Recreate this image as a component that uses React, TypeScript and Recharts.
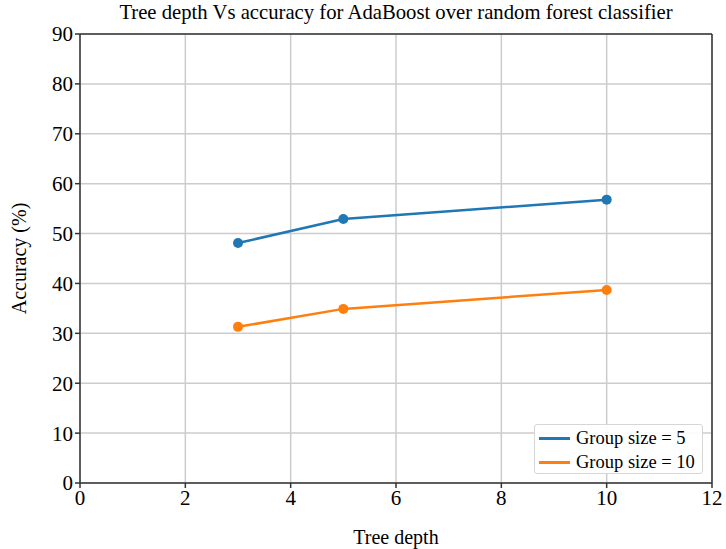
import { LineChart, Line, XAxis, YAxis, CartesianGrid, Legend, ReferenceLine } from 'recharts';

const depths = [3, 5, 10];
const groupSize5 = [48.1, 52.9, 56.8];
const groupSize10 = [31.3, 34.9, 38.7];
const xTicks = [0, 2, 4, 6, 8, 10, 12];
const yTicks = [0, 10, 20, 30, 40, 50, 60, 70, 80, 90];

const data = depths.map((d, i) => ({ depth: d, g5: groupSize5[i], g10: groupSize10[i] }));

const FONT = '"Liberation Serif", "Times New Roman", serif';
const BLUE = '#1f77b4';
const ORANGE = '#ff7f0e';

const LegendBox = () => (
  <div
    style={{
      boxSizing: 'border-box',
      width: 169,
      height: 50,
      background: 'rgba(255,255,255,0.9)',
      border: '1px solid #d6d6d6',
      borderRadius: 3,
      padding: '1px 4px',
      fontFamily: FONT,
      fontSize: 18.5,
      color: '#000',
      lineHeight: '24px',
    }}
  >
    {[
      { name: 'Group size = 5', color: BLUE },
      { name: 'Group size = 10', color: ORANGE },
    ].map((e) => (
      <div key={e.name} style={{ display: 'flex', alignItems: 'center', whiteSpace: 'nowrap' }}>
        <span style={{ display: 'inline-block', width: 31, height: 3, background: e.color, marginRight: 6 }} />
        {e.name}
      </div>
    ))}
  </div>
);

export default function App() {
  return (
    <div style={{ position: 'absolute', left: 0, top: 0, width: 726, height: 549, background: '#fff' }}>
      <div
        style={{
          position: 'absolute',
          left: 80,
          width: 632,
          top: 1,
          textAlign: 'center',
          fontFamily: FONT,
          fontSize: 20.7,
          color: '#000',
          whiteSpace: 'nowrap',
        }}
      >
        Tree depth Vs accuracy for AdaBoost over random forest classifier
      </div>
      <LineChart width={726} height={549} data={data} margin={{ top: 34, right: 14, left: 20, bottom: 0 }}>
        <CartesianGrid stroke="#cccccc" strokeWidth={1.5} horizontalValues={yTicks} verticalValues={xTicks} />
        <XAxis
          dataKey="depth"
          type="number"
          domain={[0, 12]}
          ticks={xTicks}
          height={66}
          stroke="#333"
          strokeWidth={1.5}
          tickSize={5}
          tick={{ fill: '#000', fontSize: 21, fontFamily: FONT }}
          label={{ value: 'Tree depth', position: 'insideBottom', offset: 5, fill: '#000', fontSize: 20, fontFamily: FONT }}
        />
        <YAxis
          type="number"
          domain={[0, 90]}
          ticks={yTicks}
          width={60}
          stroke="#333"
          strokeWidth={1.5}
          tickSize={5}
          tick={{ fill: '#000', fontSize: 21, fontFamily: FONT }}
          label={{ value: 'Accuracy (%)', angle: -90, position: 'insideLeft', offset: -1, fill: '#000', fontSize: 20, fontFamily: FONT, style: { textAnchor: 'middle' } }}
        />
        <ReferenceLine y={90} stroke="#333" strokeWidth={1.5} />
        <ReferenceLine x={12} stroke="#333" strokeWidth={1.5} />
        <Line
          dataKey="g5"
          name="Group size = 5"
          stroke={BLUE}
          strokeWidth={2.5}
          dot={{ r: 5, fill: BLUE, stroke: BLUE, strokeWidth: 0 }}
          isAnimationActive={false}
        />
        <Line
          dataKey="g10"
          name="Group size = 10"
          stroke={ORANGE}
          strokeWidth={2.5}
          dot={{ r: 5, fill: ORANGE, stroke: ORANGE, strokeWidth: 0 }}
          isAnimationActive={false}
        />
        <Legend
          layout="vertical"
          align="center"
          verticalAlign="middle"
          content={<LegendBox />}
          wrapperStyle={{ position: 'absolute', left: 534, top: 424, width: 169, height: 50 }}
        />
      </LineChart>
    </div>
  );
}
